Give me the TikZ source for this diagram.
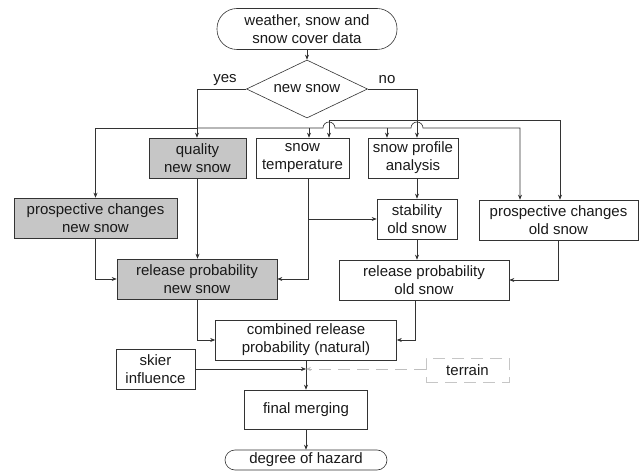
\documentclass[tikz,border=0pt]{standalone}
\usepackage{fontspec}
\setmainfont{Liberation Sans}
\usetikzlibrary{arrows.meta,shapes.geometric}

\begin{document}
\begin{tikzpicture}[x=1pt,y=-1pt,->,>={Stealth[length=5pt,width=4pt]},line width=0.6pt,draw=black!80,
  every node/.style={font=\fontsize{15}{18}\selectfont,align=center,inner sep=0pt,text=black!90},
  box/.style={draw=black!80,rectangle,minimum height=40pt},
  greybox/.style={box,fill=gray!45},
  terminal/.style={draw=black!80,rectangle},
  decision/.style={draw=black!80,diamond,aspect=2,minimum width=121pt,minimum height=58pt},
  dashbox/.style={draw=gray!45,dash pattern=on 12pt off 7pt,rectangle}]
  \useasboundingbox (0,0) rectangle (643,473);

  \node[terminal,minimum width=180pt,minimum height=41pt,rounded corners=20pt] (data) at (307,29) {weather, snow and\\snow cover data};
  \node[decision]                              (new)     at (307,89)    {new snow};
  \node                                        (yes)     at (225,80)    {yes};
  \node                                        (no)      at (387,80)    {no};
  \node[greybox,minimum width=97pt]            (quality) at (197.5,158) {quality\\new snow};
  \node[box,minimum width=93pt]                (temp)    at (302.5,158) {snow\\temperature};
  \node[box,minimum width=90pt]                (profile) at (413,158)   {snow profile\\analysis};
  \node[greybox,minimum width=163pt]           (prosnew) at (95.5,218)  {prospective changes\\new snow};
  \node[box,minimum width=80pt]                (stab)    at (417,219)   {stability\\old snow};
  \node[box,minimum width=159pt]               (prosold) at (558.5,220) {prospective changes\\old snow};
  \node[greybox,minimum width=160pt]           (relnew)  at (197,279)   {release probability\\new snow};
  \node[box,minimum width=170pt]               (relold)  at (424,280)   {release probability\\old snow};
  \node[box,minimum width=181pt]               (comb)    at (306,340)   {combined release\\probability (natural)};
  \node[box,minimum width=79pt]                (skier)   at (155.5,369) {skier\\influence};
  \node[dashbox,minimum width=83pt,minimum height=24pt] (terrain) at (467.5,370) {terrain};
  \node[box,minimum width=123pt,minimum height=39pt] (final) at (306,409.5) {final merging};
  \node[terminal,minimum width=162pt,minimum height=20pt,rounded corners=10pt] (hazard) at (306,460) {degree of hazard};

  \coordinate (ycorner) at (197,89);
  \coordinate (yjoin)   at (197,128);
  \coordinate (ya)      at (309,128);
  \coordinate (yb)      at (387,128);
  \coordinate (yend)    at (520,128);
  \coordinate (ncorner) at (417,89);
  \coordinate (njoin)   at (417,120);
  \coordinate (na)      at (329,120);
  \coordinate (nend)    at (560,120);
  \coordinate (tx)      at ([xshift=5.5pt]temp.south);
  \coordinate (rx)      at ([xshift=-9pt]relold.south);
  \coordinate (meet)    at (306,369);

  \draw (data.south) -- (new.north);
  \draw (new.west) -- (ycorner) -- (ycorner |- quality.north);
  \draw (new.east) -- (ncorner) -- (ncorner |- profile.north);
  \draw (yjoin) -| (prosnew.north);
  \draw (yjoin) -- (323,128) arc[start angle=180,end angle=0,radius=6pt]
        -- (411,128) arc[start angle=180,end angle=0,radius=6pt] -- (yend) -- (yend |- prosold.north);
  \draw (ya) -- (ya |- temp.north);
  \draw (yb) -- (yb |- profile.north);
  \draw (njoin) -- (na) -- (na |- temp.north);
  \draw (njoin) -- (nend) -- (nend |- prosold.north);

  \draw (quality.south) -- (quality.south |- relnew.north);
  \draw (prosnew.south) |- (relnew.west);
  \draw (tx) |- (relnew.east);
  \draw (tx |- stab.west) -- (stab.west);
  \draw (stab.north |- profile.south) -- (stab.north);
  \draw (stab.south) -- (stab.south |- relold.north);
  \draw (prosold.south) |- (relold.east);
  \draw (relnew.south) |- (comb.west);
  \draw (rx) |- (comb.east);
  \draw (comb.south) -- (final.north);
  \draw (skier.east |- meet) -- (meet);
  \draw[gray!50,dash pattern=on 12pt off 7pt] (terrain.west |- meet) -- (meet);
  \draw (final.south) -- (hazard.north);
\end{tikzpicture}
\end{document}
